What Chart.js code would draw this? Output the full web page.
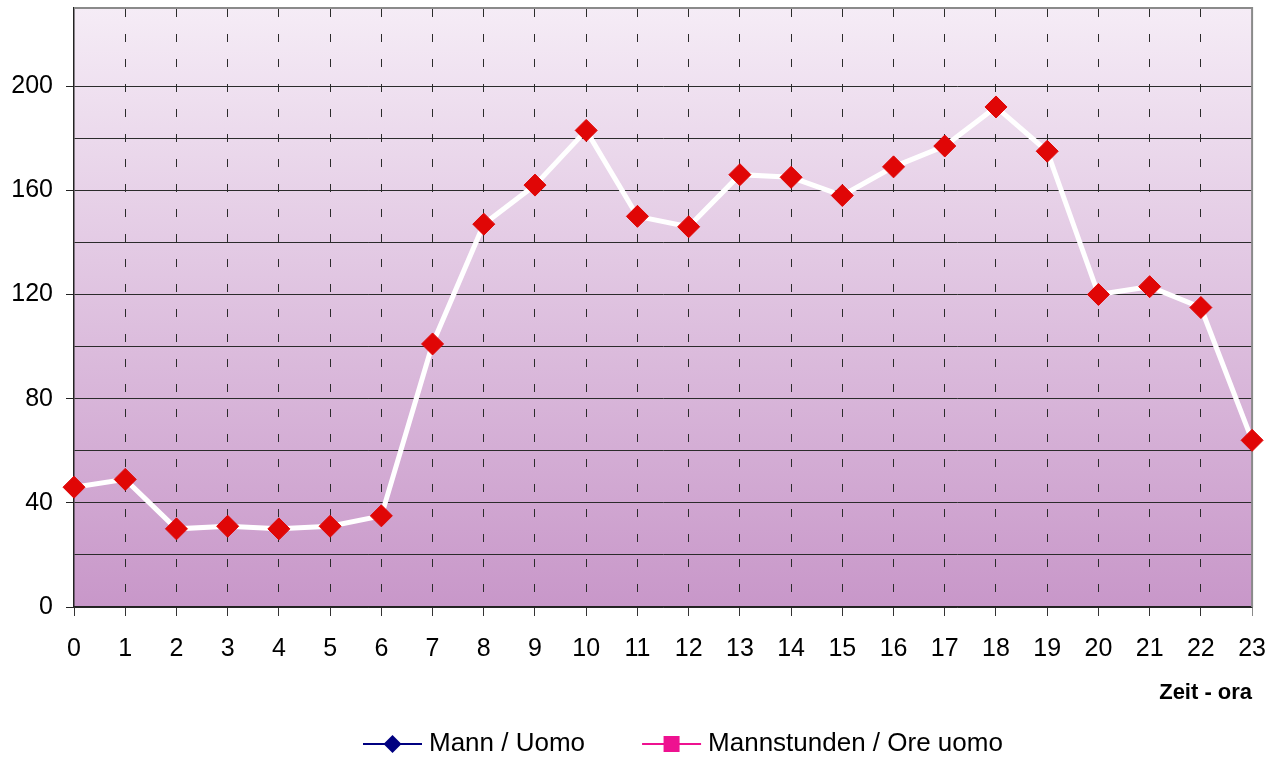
<!DOCTYPE html>
<html lang="de">
<head>
  <meta charset="UTF-8">
  <title>Mann / Uomo - Zeit</title>
  <script src="https://cdn.jsdelivr.net/npm/chart.js"></script>
  <style>
    html, body { margin: 0; padding: 0; background: #fff; }
    #wrap { width: 1284px; height: 760px; }
  </style>
</head>
<body>
<div id="wrap"><canvas id="chart" width="1284" height="760"></canvas></div>
<script>
const hours = ['0','1','2','3','4','5','6','7','8','9','10','11','12','13','14','15','16','17','18','19','20','21','22','23'];
const mann = [46, 49, 30, 31, 30, 31, 35, 101, 147, 162, 183, 150, 146, 166, 165, 158, 169, 177, 192, 175, 120, 123, 115, 64];
const legendNames = ['Mann / Uomo', 'Mannstunden / Ore uomo'];
const legendColors = ['#000080', '#ee1190'];
const legendMarkers = ['diamond', 'square'];

const FONT = '"Liberation Sans", Arial, sans-serif';

// purple gradient behind the plot, grey frame on top/right
const plotFrame = {
  id: 'plotFrame',
  beforeDraw(chart) {
    const { ctx, chartArea: a } = chart;
    const g = ctx.createLinearGradient(0, a.top, 0, a.bottom);
    g.addColorStop(0, '#f5ecf6');
    g.addColorStop(1, '#c897c9');
    ctx.save();
    ctx.fillStyle = g;
    ctx.fillRect(a.left, a.top, a.right - a.left, a.bottom - a.top);
    ctx.restore();
  },
  beforeDatasetsDraw(chart) {
    const { ctx, chartArea: a } = chart;
    ctx.save();
    ctx.strokeStyle = '#8a8a8a';
    ctx.lineWidth = 2;
    ctx.beginPath();
    ctx.moveTo(a.left, a.top);
    ctx.lineTo(a.right, a.top);
    ctx.lineTo(a.right, a.bottom);
    ctx.stroke();
    ctx.restore();
  }
};

// legend row with line + marker symbols
const lineLegend = {
  id: 'lineLegend',
  afterDraw(chart) {
    const ctx = chart.ctx;
    const y = 744;
    let x = 363;
    ctx.save();
    ctx.font = '26px ' + FONT;
    ctx.textBaseline = 'middle';
    legendNames.forEach((name, i) => {
      const col = legendColors[i];
      ctx.strokeStyle = col;
      ctx.lineWidth = 2;
      ctx.beginPath();
      ctx.moveTo(x, y);
      ctx.lineTo(x + 59, y);
      ctx.stroke();
      const cx = x + 29.5;
      ctx.fillStyle = col;
      if (legendMarkers[i] === 'diamond') {
        ctx.beginPath();
        ctx.moveTo(cx, y - 9);
        ctx.lineTo(cx + 9, y);
        ctx.lineTo(cx, y + 9);
        ctx.lineTo(cx - 9, y);
        ctx.closePath();
        ctx.fill();
      } else {
        ctx.fillRect(cx - 8, y - 8, 16, 16);
      }
      ctx.fillStyle = '#000';
      ctx.fillText(name, x + 66, y);
      x += 66 + ctx.measureText(name).width + 57;
    });
    ctx.restore();
  }
};

new Chart(document.getElementById('chart'), {
  type: 'line',
  data: {
    labels: hours,
    datasets: [{
      label: legendNames[0],
      data: mann,
      borderColor: '#ffffff',
      borderWidth: 5,
      tension: 0,
      clip: false,
      pointStyle: 'rectRot',
      pointRadius: 11,
      pointHoverRadius: 11,
      pointBackgroundColor: '#e00606',
      pointBorderColor: '#e00606',
      pointBorderWidth: 1
    }]
  },
  options: {
    responsive: false,
    animation: false,
    layout: { autoPadding: false, padding: { top: 8, right: 29, bottom: 0, left: 0 } },
    plugins: {
      legend: { display: false },
      tooltip: { enabled: false }
    },
    scales: {
      x: {
        offset: false,
        afterFit(s) { s.height = 153; },
        grid: {
          color: ctx => ctx.index === 0 ? 'rgba(0,0,0,0)' : '#2b2b2b',
          lineWidth: 1,
          tickLength: 9,
          tickColor: ctx => ctx.index === hours.length - 1 ? '#8a8a8a' : '#333'
        },
        border: { color: '#222', width: 1.5, dash: [8, 17], dashOffset: -1 },
        ticks: {
          color: '#000',
          font: { family: FONT, size: 25 },
          padding: 18,
          maxRotation: 0,
          autoSkip: false
        },
        title: {
          display: true,
          text: 'Zeit - ora',
          align: 'end',
          color: '#000',
          font: { family: FONT, size: 22, weight: 'bold' },
          padding: { top: 0, bottom: 54 }
        }
      },
      y: {
        min: 0,
        max: 230,
        afterFit(s) {
          s.width = 74;
          s.paddingTop = 0;
          s.paddingBottom = 0;
        },
        afterBuildTicks(s) { s.ticks = s.ticks.filter(t => t.value <= 220); },
        grid: {
          color: '#2b2b2b',
          lineWidth: 1,
          tickLength: 8,
          tickColor: ctx => ctx.tick && ctx.tick.value % 40 === 0 ? '#222' : 'rgba(0,0,0,0)'
        },
        border: { color: '#222', width: 1.5 },
        ticks: {
          stepSize: 20,
          color: '#000',
          font: { family: FONT, size: 25 },
          padding: 13,
          callback: v => v % 40 === 0 ? v : ''
        }
      }
    }
  },
  plugins: [plotFrame, lineLegend]
});
</script>
</body>
</html>
